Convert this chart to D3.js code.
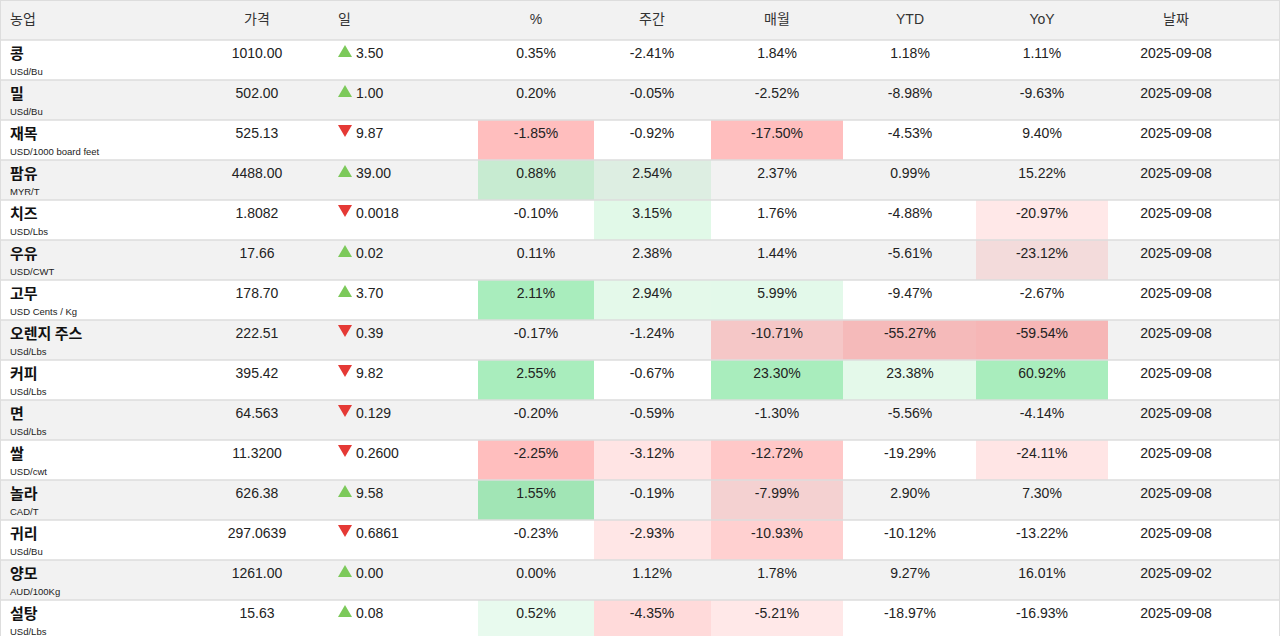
<!DOCTYPE html>
<html><head><meta charset="utf-8">
<script src="https://cdn.jsdelivr.net/npm/d3@7"></script>
<style>
body{margin:0;background:#fff;font-family:"Liberation Sans","Noto Sans CJK KR",sans-serif;}
</style></head><body>
<svg id="tbl"></svg>
<script>
var headers = ["농업","가격","일","%","주간","매월","YTD","YoY","날짜"];
var names = ["콩","밀","재목","팜유","치즈","우유","고무","오렌지 주스","커피","면","쌀","놀라","귀리","양모","설탕"];
var units = ["USd/Bu","USd/Bu","USD/1000 board feet","MYR/T","USD/Lbs","USD/CWT","USD Cents / Kg","USd/Lbs","USd/Lbs","USd/Lbs","USD/cwt","CAD/T","USd/Bu","AUD/100Kg","USd/Lbs"];
var prices = ["1010.00","502.00","525.13","4488.00","1.8082","17.66","178.70","222.51","395.42","64.563","11.3200","626.38","297.0639","1261.00","15.63"];
var dayChg = ["3.50","1.00","-9.87","39.00","-0.0018","0.02","3.70","-0.39","-9.82","-0.129","-0.2600","9.58","-0.6861","0.00","0.08"];
var pct = [0.35,0.20,-1.85,0.88,-0.10,0.11,2.11,-0.17,2.55,-0.20,-2.25,1.55,-0.23,0.00,0.52];
var weekly = [-2.41,-0.05,-0.92,2.54,3.15,2.38,2.94,-1.24,-0.67,-0.59,-3.12,-0.19,-2.93,1.12,-4.35];
var monthly = [1.84,-2.52,-17.50,2.37,1.76,1.44,5.99,-10.71,23.30,-1.30,-12.72,-7.99,-10.93,1.78,-5.21];
var ytd = [1.18,-8.98,-4.53,0.99,-4.88,-5.61,-9.47,-55.27,23.38,-5.56,-19.29,2.90,-10.12,9.27,-18.97];
var yoy = [1.11,-9.63,9.40,15.22,-20.97,-23.12,-2.67,-59.54,60.92,-4.14,-24.11,7.30,-13.22,16.01,-16.93];
var dates = ["2025-09-08","2025-09-08","2025-09-08","2025-09-08","2025-09-08","2025-09-08","2025-09-08","2025-09-08","2025-09-08","2025-09-08","2025-09-08","2025-09-08","2025-09-08","2025-09-02","2025-09-08"];

// pct columns: values + threshold below which no colour
var pctCols = [
  {vals: pct, th: 0.5, x0: 478, x1: 594},
  {vals: weekly, th: 2.5, x0: 594, x1: 711},
  {vals: monthly, th: 5, x0: 711, x1: 843},
  {vals: ytd, th: 20, x0: 843, x1: 976},
  {vals: yoy, th: 20, x0: 976, x1: 1108}
];

var W = 1280, H = 636, headH = 40, rowH = 40;
var svg = d3.select("#tbl").attr("width", W).attr("height", H);
var y = d3.scaleBand().domain(d3.range(names.length)).range([headH, headH + rowH * names.length]);

svg.append("rect").attr("width", W).attr("height", headH).attr("fill", "#f2f2f2");

var hx = [10, 257, 338, 536, 652, 777, 910, 1042, 1176];
var ha = ["start","middle","start","middle","middle","middle","middle","middle","middle"];
svg.selectAll("text.h").data(headers).enter().append("text")
  .attr("x", function(d, i) { return hx[i]; }).attr("y", 24)
  .attr("text-anchor", function(d, i) { return ha[i]; })
  .attr("font-size", 14).attr("fill", "#333").text(function(d) { return d; });

var rows = svg.selectAll("g.row").data(names).enter().append("g")
  .attr("transform", function(d, i) { return "translate(0," + y(i) + ")"; });

rows.append("rect").attr("width", W).attr("height", rowH)
  .attr("fill", function(d, i) { return i % 2 ? "#f2f2f2" : "#fff"; });

pctCols.forEach(function(c, ci) {
  var ag = d3.scaleLinear().domain([c.th, c.th * 3]).range([0.1, 0.4]).clamp(true);
  var ar = d3.scaleLinear().domain([c.th, c.th * 3]).range([0.1, 0.3]).clamp(true);
  rows.append("rect").attr("x", c.x0).attr("width", c.x1 - c.x0).attr("height", rowH)
    .attr("fill", function(d, i) {
      var v = c.vals[i];
      if (Math.abs(v) < c.th) return "none";
      return v > 0 ? "rgba(40,210,90," + ag(v) + ")" : "rgba(255,40,40," + ar(-v) + ")";
    });
  rows.append("text").attr("x", hx[ci + 3]).attr("y", 18).attr("text-anchor", "middle")
    .attr("font-size", 14).attr("fill", "#222")
    .text(function(d, i) { return c.vals[i].toFixed(2) + "%"; });
});

rows.append("line").attr("x1", 0).attr("x2", W).attr("y1", 0).attr("y2", 0)
  .attr("stroke", "#ddd").attr("stroke-width", 1.5);
svg.append("rect").attr("x", 0.5).attr("y", 0.5).attr("width", W - 1).attr("height", H).attr("fill", "none").attr("stroke", "#ddd");

rows.append("text").attr("x", 10).attr("y", 19).attr("font-size", 15).attr("font-weight", "bold")
  .attr("font-family", "Noto Sans CJK KR").attr("fill", "#111").text(function(d) { return d; });
rows.append("text").attr("x", 10).attr("y", 35).attr("font-size", 9.5).attr("fill", "#222")
  .text(function(d, i) { return units[i]; });
rows.append("text").attr("x", 257).attr("y", 18).attr("text-anchor", "middle").attr("font-size", 14)
  .attr("fill", "#222").text(function(d, i) { return prices[i]; });

rows.append("path")
  .attr("d", function(d, i) {
    return +dayChg[i] < 0 ? "M338,5 L352,5 L345,17 Z" : "M338,17 L352,17 L345,5 Z";
  })
  .attr("fill", function(d, i) { return +dayChg[i] < 0 ? "#e53935" : "#7cc95a"; });
rows.append("text").attr("x", 356).attr("y", 18).attr("font-size", 14).attr("fill", "#222")
  .text(function(d, i) { return dayChg[i].replace("-", ""); });

rows.append("text").attr("x", 1176).attr("y", 18).attr("text-anchor", "middle").attr("font-size", 14)
  .attr("fill", "#222").text(function(d, i) { return dates[i]; });
</script>
</body></html>
